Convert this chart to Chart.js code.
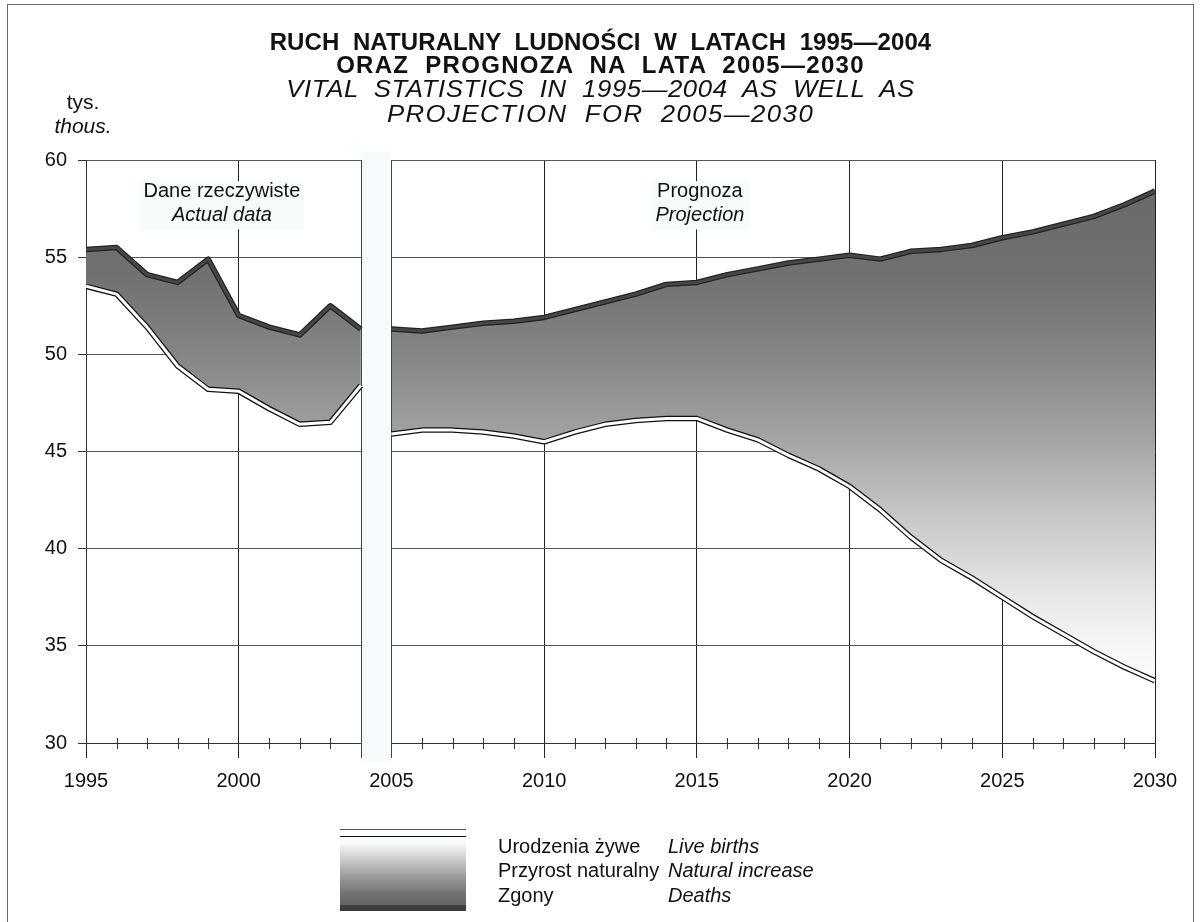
<!DOCTYPE html>
<html lang="pl">
<head>
<meta charset="UTF-8">
<title>Ruch naturalny ludności 1995—2030</title>
<script src="https://cdn.jsdelivr.net/npm/chart.js"></script>
<style>
  body { margin: 0; background: #fff; font-family: Arial, "Liberation Sans", sans-serif; color: #111; }
  #strona { position: relative; width: 1201px; height: 922px; overflow: hidden; }
  #ramka { position: absolute; left: 7px; top: 4px; width: 1185px; height: 1000px; border: 1px solid #666; }
  #wykres { position: absolute; left: 0; top: 0; }
  .tekst { position: absolute; white-space: pre; }
  .tytul { left: 0; width: 1201px; text-align: center; }
  .b { font-weight: bold; font-size: 24px; }
  .i { font-style: italic; font-size: 23px; transform: scaleX(1.12); transform-origin: 600px 0; }
  .leg { font-size: 20px; }
  #symbol { position: absolute; left: 340px; top: 829px; width: 126px; height: 82px; }
</style>
</head>
<body>
<div id="strona">
  <div id="ramka"></div>
  <canvas id="wykres" width="1201" height="922"></canvas>

  <div class="tekst tytul b" style="top:28px; letter-spacing:0.1px">RUCH  NATURALNY  LUDNOŚCI  W  LATACH  1995—2004</div>
  <div class="tekst tytul b" style="top:51px; letter-spacing:1.3px">ORAZ  PROGNOZA  NA  LATA  2005—2030</div>
  <div class="tekst tytul i" style="top:76px; letter-spacing:0.5px">VITAL  STATISTICS  IN  1995—2004  AS  WELL  AS</div>
  <div class="tekst tytul i" style="top:101px; letter-spacing:1.3px">PROJECTION  FOR  2005—2030</div>

  <div class="tekst" style="left:40px; width:86px; text-align:center; top:90px; font-size:21px">tys.</div>
  <div class="tekst" style="left:40px; width:86px; text-align:center; top:114px; font-size:21px; font-style:italic">thous.</div>

  <!-- legenda -->
  <div id="symbol">
    <div style="height:1px; background:#555"></div>
    <div style="height:6px; background:#fff"></div>
    <div style="height:1px; background:#111"></div>
    <div style="height:66px; background:linear-gradient(to bottom, #fff 0%, #f3f5f6 12%, #c9caca 35%, #9a9a9a 60%, #747474 85%, #666 100%)"></div>
    <div style="height:2px; background:#666"></div>
    <div style="height:6px; background:#3c3c3c"></div>
  </div>
  <div class="tekst leg" style="left:498px; top:835px">Urodzenia żywe</div>
  <div class="tekst leg" style="left:498px; top:859px">Przyrost naturalny</div>
  <div class="tekst leg" style="left:498px; top:884px">Zgony</div>
  <div class="tekst leg" style="left:668px; top:835px; font-style:italic">Live births</div>
  <div class="tekst leg" style="left:668px; top:859px; font-style:italic">Natural increase</div>
  <div class="tekst leg" style="left:668px; top:884px; font-style:italic">Deaths</div>
</div>

<script>
// dane rzeczywiste 1995-2004 (tys.)
const lataRzecz = [1995, 1996, 1997, 1998, 1999, 2000, 2001, 2002, 2003, 2004];
const urodzeniaRzecz = [53.5, 53.1, 51.4, 49.4, 48.2, 48.1, 47.2, 46.4, 46.5, 48.4];
const zgonyRzecz = [55.4, 55.5, 54.1, 53.7, 54.9, 52.0, 51.4, 51.0, 52.5, 51.3];

// prognoza 2005-2030 (tys.)
const lataProg = [2005, 2006, 2007, 2008, 2009, 2010, 2011, 2012, 2013, 2014, 2015, 2016, 2017,
                  2018, 2019, 2020, 2021, 2022, 2023, 2024, 2025, 2026, 2027, 2028, 2029, 2030];
const urodzeniaProg = [45.9, 46.1, 46.1, 46.0, 45.8, 45.5, 46.0, 46.4, 46.6, 46.7, 46.7, 46.1, 45.6,
                       44.8, 44.1, 43.2, 42.0, 40.6, 39.4, 38.5, 37.5, 36.5, 35.6, 34.7, 33.9, 33.2];
const zgonyProg = [51.3, 51.2, 51.4, 51.6, 51.7, 51.9, 52.3, 52.7, 53.1, 53.6, 53.7, 54.1, 54.4,
                   54.7, 54.9, 55.1, 54.9, 55.3, 55.4, 55.6, 56.0, 56.3, 56.7, 57.1, 57.7, 58.4];

const przerwa = [2004, 2005];
const zakresX = [1995, 2030];
const zakresY = [30, 60];

const opisy = [
  { pl: 'Dane rzeczywiste', en: 'Actual data', rok: 1999.45 },
  { pl: 'Prognoza', en: 'Projection', rok: 2015.1 }
];

function punkty(lata, wartosci) {
  return lata.map((r, i) => ({ x: r, y: wartosci[i] }));
}

// pionowy gradient wypelnienia (przyrost naturalny)
function cieniowanie(context) {
  const chart = context.chart;
  const { ctx, chartArea, scales } = chart;
  if (!chartArea) return '#888';
  const g = ctx.createLinearGradient(0, scales.y.getPixelForValue(58), 0, scales.y.getPixelForValue(33));
  g.addColorStop(0, '#6a6a6a');
  g.addColorStop(0.16, '#717171');
  g.addColorStop(0.32, '#858585');
  g.addColorStop(0.48, '#a1a1a1');
  g.addColorStop(0.64, '#c3c4c4');
  g.addColorStop(0.80, '#e2e4e5');
  g.addColorStop(0.92, '#f4f6f7');
  g.addColorStop(1, '#fdfdfd');
  return g;
}

function linie(lata, urodzenia, zgony, start) {
  const ur = punkty(lata, urodzenia);
  const zg = punkty(lata, zgony);
  return [
    { data: ur, borderColor: '#fff', borderWidth: 3, order: 0, fill: false },
    { data: ur, borderColor: '#111', borderWidth: 5.5, order: 1, fill: false },
    { data: zg, borderColor: '#474747', borderWidth: 3, order: 0, fill: false },
    { data: zg, borderColor: '#222', borderWidth: 5.5, order: 1,
      fill: { target: start }, backgroundColor: cieniowanie }
  ];
}

const dodatki = {
  id: 'dodatki',
  beforeDatasetsDraw(chart) {
    const { ctx, chartArea: a, scales: { x, y } } = chart;
    ctx.save();
    // drobne podzialki co rok
    ctx.strokeStyle = '#333';
    ctx.lineWidth = 1;
    for (let r = zakresX[0] + 1; r < zakresX[1]; r++) {
      if (r % 5 === 0) continue;
      const px = Math.round(x.getPixelForValue(r)) + 0.5;
      ctx.beginPath();
      ctx.moveTo(px, a.bottom - 5);
      ctx.lineTo(px, a.bottom + 6);
      ctx.stroke();
    }
    // przerwa miedzy danymi a prognoza
    const x0 = x.getPixelForValue(przerwa[0]);
    const x1 = x.getPixelForValue(przerwa[1]);
    ctx.fillStyle = '#f7fbfc';
    ctx.fillRect(x0, a.top - 8, x1 - x0, a.bottom - a.top + 27);
    ctx.strokeStyle = '#444';
    [x0, x1].forEach(px => {
      const p = Math.round(px) + 0.5;
      ctx.beginPath();
      ctx.moveTo(p, a.top);
      ctx.lineTo(p, a.bottom + 15);
      ctx.stroke();
    });
    // napisy w polu wykresu
    ctx.textAlign = 'center';
    ctx.textBaseline = 'middle';
    opisy.forEach(o => {
      const cx = x.getPixelForValue(o.rok);
      const y1 = y.getPixelForValue(58.4);
      const y2 = y.getPixelForValue(57.15);
      ctx.font = '20px Arial, "Liberation Sans", sans-serif';
      const w1 = ctx.measureText(o.pl).width;
      ctx.font = 'italic 20px Arial, "Liberation Sans", sans-serif';
      const w2 = ctx.measureText(o.en).width;
      const w = Math.max(w1, w2) + 8;
      ctx.fillStyle = '#f7fbfc';
      ctx.fillRect(cx - w / 2, y1 - 10, w, y2 - y1 + 24);
      ctx.fillStyle = '#111';
      ctx.font = '20px Arial, "Liberation Sans", sans-serif';
      ctx.fillText(o.pl, cx, y1);
      ctx.font = 'italic 20px Arial, "Liberation Sans", sans-serif';
      ctx.fillText(o.en, cx, y2);
    });
    ctx.restore();
  }
};

Chart.defaults.font.family = 'Arial, "Liberation Sans", sans-serif';
Chart.defaults.font.size = 20;
Chart.defaults.color = '#111';

new Chart(document.getElementById('wykres'), {
  type: 'line',
  data: {
    datasets: [
      ...linie(lataRzecz, urodzeniaRzecz, zgonyRzecz, 0),
      ...linie(lataProg, urodzeniaProg, zgonyProg, 4)
    ]
  },
  options: {
    responsive: false,
    animation: false,
    events: [],
    layout: { padding: { top: 160, right: 46, bottom: 129, left: 0 } },
    elements: {
      point: { radius: 0 },
      line: { tension: 0, borderJoinStyle: 'round', borderCapStyle: 'butt' }
    },
    plugins: {
      legend: { display: false },
      tooltip: { enabled: false },
      filler: { drawTime: 'beforeDatasetsDraw' }
    },
    scales: {
      x: {
        type: 'linear',
        min: zakresX[0],
        max: zakresX[1],
        afterFit(s) { s.height = 50; },
        border: { display: true, color: '#333', width: 1 },
        grid: { color: '#222', lineWidth: 1, tickLength: 15, tickColor: '#222' },
        ticks: { stepSize: 5, padding: 11, maxRotation: 0, autoSkip: false,
                 callback: v => String(v) }
      },
      y: {
        min: zakresY[0],
        max: zakresY[1],
        afterFit(s) { s.width = 86; },
        border: { display: true, color: '#333', width: 1 },
        grid: { color: '#555', lineWidth: 1, tickLength: 8, tickColor: '#333' },
        ticks: { stepSize: 5, padding: 11 }
      }
    }
  },
  plugins: [dodatki]
});
</script>
</body>
</html>
